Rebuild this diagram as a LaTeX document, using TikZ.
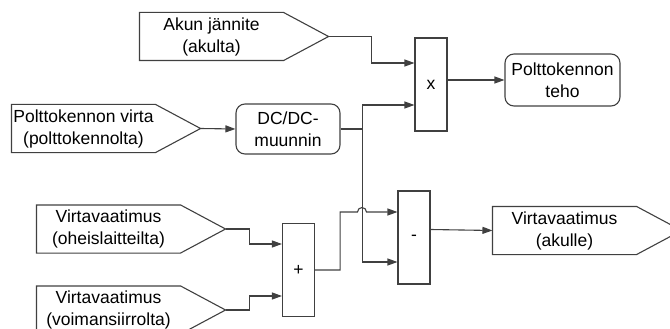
\documentclass[tikz,border=0pt]{standalone}
\usepackage{fontspec}
\setmainfont{Liberation Sans}
\usetikzlibrary{positioning,arrows.meta,calc}

\begin{document}
\begin{tikzpicture}[
x=1pt,y=-1pt,
line width=1.1pt,draw=black!75,
every node/.style={align=center,inner sep=0pt,font=\fontsize{17.5}{22}\selectfont},
lahde/.style={minimum width=143pt,minimum height=47pt},
lohko/.style={draw,rounded corners=9pt,minimum width=104pt,minimum height=50pt},
oper/.style={draw,minimum width=32pt,minimum height=93pt},
arr/.style={-{Triangle[length=10pt,width=7pt]}},
>=Stealth]
\useasboundingbox (0,0) rectangle (670,329);
% input and output signals
\node[lahde] (akku) at (211.5,36.5) {Akun jännite\\(akulta)};
\node[lahde] (pkvirta) at (83.5,128.5) {Polttokennon virta\\(polttokennolta)};
\node[lahde] (oheis) at (108.5,229) {Virtavaatimus\\(oheislaitteilta)};
\node[lahde] (voima) at (108.5,310) {Virtavaatimus\\(voimansiirrolta)};
\node[lahde] (akulle) at (564.5,230.5) {Virtavaatimus\\(akulle)};
\foreach \n in {akku,pkvirta,oheis,voima,akulle}{
  \coordinate (\n-karki) at ($(\n.east)+(45,0)$);
  \draw (\n.north west) -- (\n.north east) -- (\n-karki) -- (\n.south east) -- (\n.south west) -- cycle;
}
% blocks
\node[lohko] (dcdc) at (288,129) {DC/DC-\\muunnin};
\node[lohko,minimum width=115pt,minimum height=52pt] (teho) at (562.5,80) {Polttokennon\\teho};
\node[oper] (kerto) at (431,84.5) {x};
\node[oper] (summa) at (298.5,270) {+};
\node[oper] (erotus) at (414,237.5) {-};
% connectors
\draw[arr] (akku-karki) -- ++(43,0) |- ([yshift=21.5pt]kerto.west);
\draw[arr] (pkvirta-karki) -- (dcdc.west);
\coordinate (haara) at ($(dcdc.east)+(22,0)$);
\draw (dcdc.east) -- (haara);
\draw[arr] (haara) |- ([yshift=-20.5pt]kerto.west);
\draw[arr] (haara) |- ([yshift=-24.5pt]erotus.west);
\draw[arr] ([yshift=4.5pt]kerto.east) -- (teho.west);
\draw[arr] (oheis-karki) -- ++(24,0) |- ([yshift=26pt]summa.west);
\draw[arr] (voima-karki) -- ++(24,0) |- ([yshift=-26pt]summa.west);
\draw[arr] (summa.east) -- ++(25,0) |- (357.5,212) arc[start angle=180,end angle=0,radius=4.5pt] -- ([yshift=25.5pt]erotus.west);
\draw[arr] ([yshift=8pt]erotus.east) -- (akulle.west);
\end{tikzpicture}
\end{document}
